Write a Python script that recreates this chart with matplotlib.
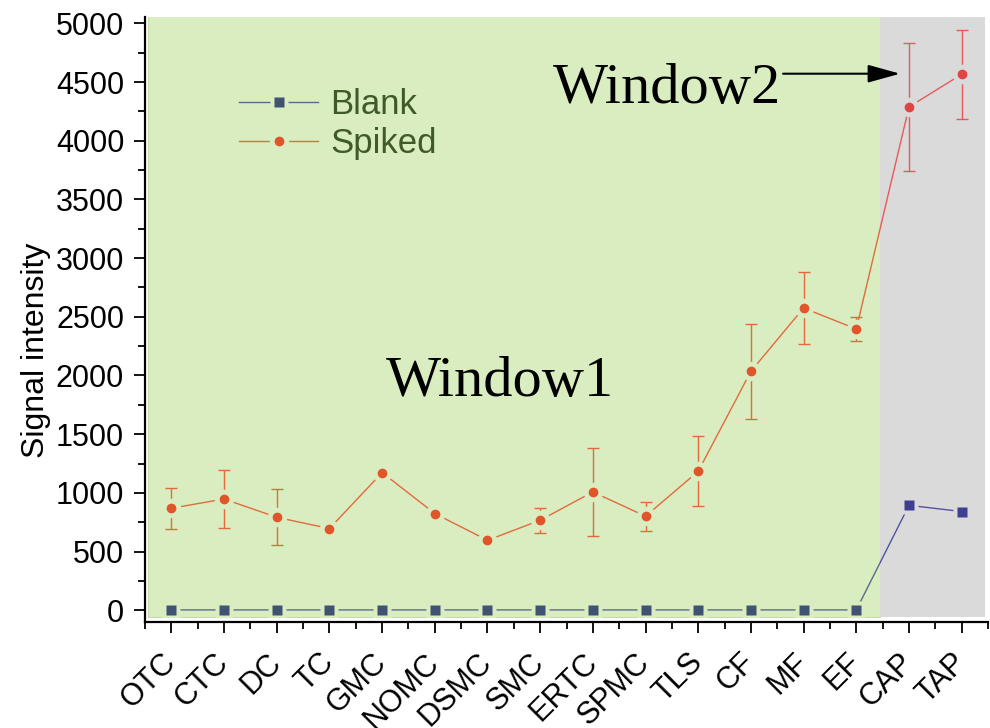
import matplotlib
matplotlib.use("Agg")
import matplotlib.pyplot as plt
import numpy as np
from matplotlib.patches import Rectangle
from matplotlib.lines import Line2D
from matplotlib.legend_handler import HandlerTuple
from matplotlib.ticker import MultipleLocator

plt.rcParams['font.family'] = ['Liberation Sans', 'DejaVu Sans']

# sample names and signal intensities
samples = ["OTC", "CTC", "DC", "TC", "GMC", "NOMC", "DSMC", "SMC", "ERTC",
           "SPMC", "TLS", "CF", "MF", "EF", "CAP", "TAP"]
blank = [3, 3, 3, 3, 3, 3, 3, 3, 3, 3, 3, 3, 3, 3, 894, 841]
spiked = [869, 948, 792, 696, 1173, 824, 596, 767, 1008, 801, 1184, 2036,
          2575, 2396, 4288, 4566]
spiked_err = [175, 250, 240, 25, 25, 55, 20, 105, 373, 125, 300, 405,
              308, 105, 545, 380]

GREEN = "#d9edc1"
GREY = "#dadada"

fig = plt.figure(figsize=(9.9, 7.28), dpi=100)
ax = fig.add_axes([0.1465, 0.1456, 0.8515, 0.8304])
x = np.arange(len(samples))

ax.set_xlim(-0.5, 15.5)
ax.set_ylim(-100, 5050)

# two shaded windows
win1 = Rectangle((-0.45, -60), 13.9, 5200, facecolor=GREEN, edgecolor="#c3dca9",
                 lw=0.8, zorder=0)
win2 = Rectangle((13.45, -60), 2.0, 5200, facecolor=GREY, edgecolor="none",
                 zorder=0)
ax.add_patch(win1)
ax.add_patch(win2)

styles = [
    # window, background, blank marker, blank line, spiked marker, spiked line
    (win1, GREEN, "#415373", "#5c6c88", "#e0552a", "#e36a3c"),
    (win2, GREY, "#3f3f8f", "#5252a0", "#e04444", "#e85a5a"),
]

for win, bg, bm, bl, sm, sl in styles:
    arts = []
    arts += ax.plot(x, blank, color=bl, lw=1.0, zorder=2)
    arts += ax.plot(x, spiked, color=sl, lw=1.0, zorder=2)
    eb = ax.errorbar(x, spiked, yerr=spiked_err, fmt="none", ecolor=sl,
                     elinewidth=1.0, capsize=4, capthick=1.0, zorder=2)
    arts += list(eb.get_children())
    # halo so that lines stop short of the markers
    arts += ax.plot(x, blank, ls="none", marker="s", ms=13, mfc=bg, mec="none", zorder=3)
    arts += ax.plot(x, spiked, ls="none", marker="o", ms=14, mfc=bg, mec="none", zorder=3)
    arts += ax.plot(x, blank, ls="none", marker="s", ms=6.5, mfc=bm, mec="none", zorder=4)
    arts += ax.plot(x, spiked, ls="none", marker="o", ms=7, mfc=sm, mec="none", zorder=4)
    for a in arts:
        a.set_clip_path(win)

# axes styling
for s in ["top", "right"]:
    ax.spines[s].set_visible(False)
for s in ["left", "bottom"]:
    ax.spines[s].set_linewidth(1.6)

ax.set_xticks(x)
ax.set_xticklabels(samples, rotation=45, ha="right", va="center",
                   rotation_mode="anchor")
ax.xaxis.set_minor_locator(matplotlib.ticker.FixedLocator(np.arange(-0.5, 16, 1)))
ax.yaxis.set_major_locator(MultipleLocator(500))
ax.yaxis.set_minor_locator(MultipleLocator(250))
ax.tick_params(which="major", direction="out", length=8, width=1.3, labelsize=22)
ax.tick_params(which="minor", direction="out", length=5, width=1.3)
ax.tick_params(axis="x", which="major", pad=18)
ax.tick_params(axis="y", which="major", pad=7)

ax.set_ylabel("Signal intensity", fontsize=23)
ax.yaxis.set_label_coords(-0.112, 0.45)

# window labels
ax.text(6.24, 1823, "Window1", family="Liberation Serif", fontsize=42,
        ha="center", va="baseline", zorder=5)
ax.text(7.25, 4319, "Window2", family="Liberation Serif", fontsize=42,
        ha="left", va="baseline", zorder=5)
ax.annotate("", xy=(13.83, 4571), xytext=(11.61, 4571),
            arrowprops=dict(arrowstyle="-|>,head_width=0.25,head_length=0.9",
                            color="black", lw=1.5, mutation_scale=22,
                            shrinkA=0, shrinkB=0), zorder=5)

# legend with gaps around the markers
h_blank = (Line2D([], [], color="#5c6c88", lw=1.0),
           Line2D([], [], ls="none", marker="s", ms=13, mfc=GREEN, mec="none"),
           Line2D([], [], ls="none", marker="s", ms=6.5, mfc="#415373", mec="none"))
h_spiked = (Line2D([], [], color="#e36a3c", lw=1.0),
            Line2D([], [], ls="none", marker="o", ms=14, mfc=GREEN, mec="none"),
            Line2D([], [], ls="none", marker="o", ms=7, mfc="#e0552a", mec="none"))
leg = ax.legend([h_blank, h_spiked], ["Blank", "Spiked"],
                handler_map={tuple: HandlerTuple(ndivide=1, pad=0)},
                loc="upper left", bbox_to_anchor=(0.111, 0.883), frameon=False,
                fontsize=25, handlelength=2.3, handletextpad=0.35,
                labelspacing=0.18, borderpad=0, borderaxespad=0)
for t in leg.get_texts():
    t.set_color("#3f5a27")

fig.savefig("out.png", dpi=100)
